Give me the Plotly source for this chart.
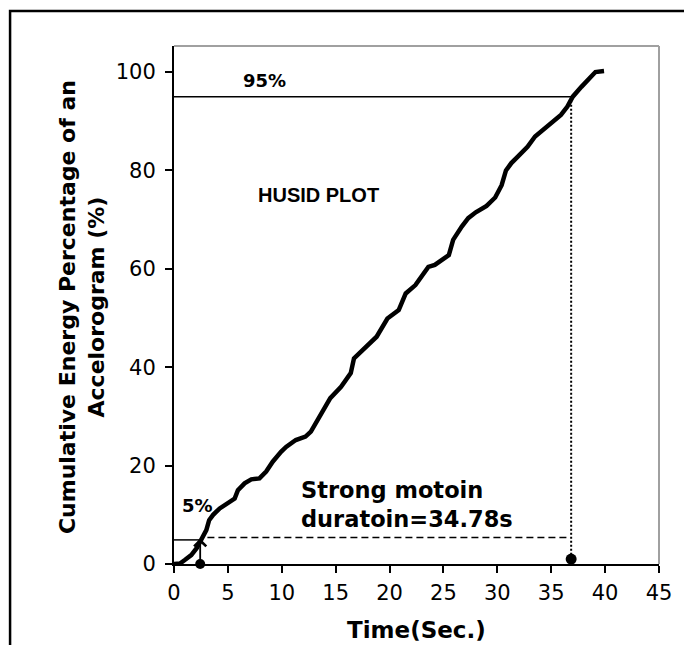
import plotly.graph_objects as go

# ---- data ----
time_s = [0, 0.55, 1.0, 1.6, 2.1, 2.55, 3.0, 3.26, 3.63, 4.24, 5.17, 5.63, 5.93, 6.55, 7.17,
          7.93, 8.55, 9.16, 9.93, 10.4, 11.3, 12.2, 12.7, 13.3, 14.5, 15.5, 16.4, 16.7, 17.5,
          18.8, 19.8, 20.85, 21.5, 22.4, 23.6, 24.2, 25.5, 25.9, 26.7, 27.3, 28.0, 29.0, 29.8,
          30.4, 30.8, 31.3, 31.9, 32.8, 33.5, 34.2, 35.0, 35.9, 36.5, 37.0, 37.8, 38.4, 39.1, 39.9]
energy_pct = [0, 0.1, 0.8, 1.8, 3.2, 4.9, 6.9, 8.9, 10.0, 11.3, 12.7, 13.3, 15.0, 16.4, 17.2,
              17.4, 18.8, 20.8, 22.8, 23.8, 25.2, 25.9, 26.9, 29.3, 33.7, 36.0, 38.8, 41.8, 43.5,
              46.2, 49.9, 51.6, 55.0, 56.7, 60.4, 60.8, 62.8, 65.9, 68.6, 70.3, 71.5, 72.8, 74.5,
              77.0, 80.0, 81.5, 82.8, 84.8, 86.9, 88.2, 89.6, 91.3, 93.0, 95.0, 97.0, 98.4, 100.0, 100.2]

t_start = 2.43      # 5 % time
t_end = 36.85       # 95 % time
lvl_low = 5
lvl_high = 95
dash_level = 5.4
x_ticks = [0, 5, 10, 15, 20, 25, 30, 35, 40, 45]
y_ticks = [0, 20, 40, 60, 80, 100]

FONT = "DejaVu Sans"

fig = go.Figure()
fig.add_trace(go.Scatter(x=time_s, y=energy_pct, mode="lines",
                         line=dict(color="black", width=4.5), showlegend=False, hoverinfo="skip"))
fig.add_trace(go.Scatter(x=[t_start, t_end], y=[0.0, 1.0], mode="markers",
                         marker=dict(color="#000000", size=[10, 11], opacity=1,
                                     line=dict(width=0)),
                         cliponaxis=False, showlegend=False, hoverinfo="skip"))

shapes = [
    dict(type="line", xref="x", yref="y", x0=0, x1=37.0, y0=lvl_high, y1=lvl_high,
         line=dict(color="black", width=1.5)),
    dict(type="line", xref="x", yref="y", x0=0, x1=2.55, y0=lvl_low - 0.1, y1=lvl_low - 0.1,
         line=dict(color="black", width=1.5)),
    dict(type="line", xref="x", yref="y", x0=t_end, x1=t_end, y0=lvl_high, y1=1.0,
         line=dict(color="black", width=2, dash="2px,2px")),
    dict(type="line", xref="x", yref="y", x0=3.1, x1=36.7, y0=dash_level, y1=dash_level,
         line=dict(color="black", width=1.5, dash="7px,4px")),
    dict(type="line", xref="paper", yref="paper", x0=0, x1=1, y0=1, y1=1,
         line=dict(color="#a0a0a0", width=2)),
    dict(type="line", xref="paper", yref="paper", x0=1, x1=1, y0=0, y1=1,
         line=dict(color="#a0a0a0", width=2)),
    dict(type="rect", xref="paper", yref="paper", x0=-0.338, x1=1.08, y0=-0.2, y1=1.0676,
         line=dict(color="black", width=2.5)),
]

annotations = [
    dict(text="<b>95%</b>", x=265, y=81),
    dict(text="<b>5%</b>", x=198, y=505),
    dict(text="<b>HUSID PLOT</b>", x=319.5, y=195),
    dict(text="<b>Strong motoin<br>duratoin=34.78s</b>", x=300, y=504, xanchor="left", align="left"),
    dict(text="<b>Time(Sec.)</b>", x=418, y=630),
    dict(text="<b>Cumulative Energy Percentage of an<br>Accelorogram (%)</b>", x=81.5, y=307,
         textangle=-90),
]

W, H = 684, 645
L, R, T, B = 174, 22, 46, 81
pw, ph = W - L - R, H - T - B


def to_paper(px, py):
    return (px - L) / pw, (H - B - py) / ph


fonts = [
    dict(family=FONT, size=18, color="black"),
    dict(family=FONT, size=18, color="black"),
    dict(family="Liberation Sans", size=20, color="black"),
    dict(family=FONT, size=22.5, color="black"),
    dict(family=FONT, size=23, color="black"),
    dict(family=FONT, size=22, color="black"),
]
final_ann = []
for i, a in enumerate(annotations):
    xp, yp = to_paper(a["x"], a["y"])
    a = dict(a)
    a["x"], a["y"] = xp, yp
    a["xref"], a["yref"] = "paper", "paper"
    a.setdefault("xanchor", "center")
    a["yanchor"] = "middle"
    a["showarrow"] = False
    a["font"] = fonts[i]
    final_ann.append(a)

final_ann.append(dict(x=t_start, y=5.2, ax=t_start, ay=0.0, xref="x", yref="y", axref="x", ayref="y",
                      showarrow=True, arrowhead=4, arrowsize=1.3, arrowwidth=1.8, arrowcolor="black",
                      text=""))

fig.update_layout(
    width=W, height=H,
    margin=dict(l=L, r=R, t=T, b=B, pad=0),
    paper_bgcolor="white", plot_bgcolor="white",
    shapes=shapes, annotations=final_ann,
    font=dict(family=FONT, size=21, color="black"),
)
fig.update_xaxes(range=[0, 45], tickvals=x_ticks, ticks="outside", ticklen=7, tickwidth=1.5,
                 tickcolor="black", showline=True, linecolor="black", linewidth=2, showgrid=False,
                 zeroline=False, tickfont=dict(family=FONT, size=21, color="black"),
                 ticklabelstandoff=2)
fig.update_yaxes(range=[0, 105.3], tickvals=y_ticks, ticks="outside", ticklen=7, tickwidth=1.5,
                 tickcolor="black", showline=True, linecolor="black", linewidth=2, showgrid=False,
                 zeroline=False, tickfont=dict(family=FONT, size=21, color="black"),
                 ticklabelstandoff=5)

fig.write_html("out.html")
